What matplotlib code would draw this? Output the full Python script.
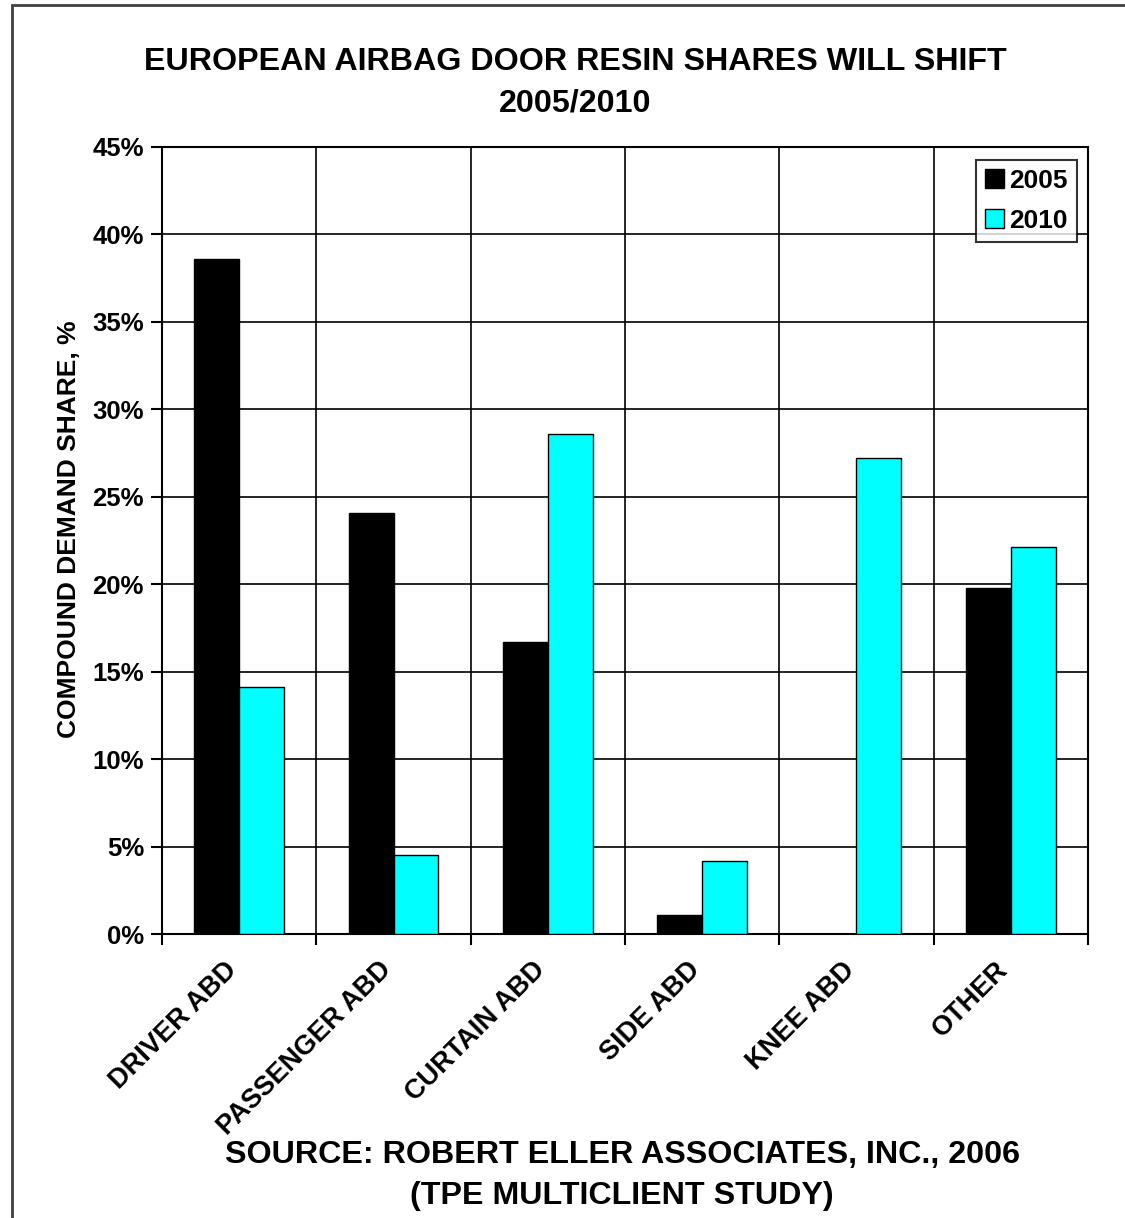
import numpy as np
import matplotlib.pyplot as plt
from matplotlib.patches import Rectangle

plt.rcParams['font.family'] = ['Liberation Sans', 'DejaVu Sans']
plt.rcParams['font.weight'] = 'bold'

categories = ['DRIVER ABD', 'PASSENGER ABD', 'CURTAIN ABD', 'SIDE ABD', 'KNEE ABD', 'OTHER']
share_2005 = [38.6, 24.1, 16.7, 1.1, 0.0, 19.8]
share_2010 = [14.1, 4.5, 28.6, 4.2, 27.2, 22.1]
yticks = [0, 5, 10, 15, 20, 25, 30, 35, 40, 45]

fig = plt.figure(figsize=(11.25, 12.18), dpi=100)
ax = fig.add_axes([162 / 1125, 1 - 934 / 1218, (1088 - 162) / 1125, (934 - 147) / 1218])

# рамка вокруг всего рисунка
fig.patches.append(Rectangle((12 / 1125, -0.01), 1.02, 1 - 5 / 1218 + 0.01,
                             transform=fig.transFigure, fill=False,
                             edgecolor='#404040', linewidth=2))

x = np.arange(len(categories))
w = 0.29
ax.bar(x - w / 2, share_2005, w, color='black', edgecolor='black', linewidth=1, label='2005', zorder=3)
ax.bar(x + w / 2, share_2010, w, color='#00ffff', edgecolor='black', linewidth=1, label='2010', zorder=3)

ax.set_xlim(-0.5, len(categories) - 0.5)
ax.set_ylim(0, 45)
ax.set_yticks(yticks)
ax.set_yticklabels([f'{t}%' for t in yticks], fontsize=18.5, fontweight='bold')
ax.yaxis.grid(True, color='black', linewidth=1.2, zorder=0)

# границы категорий: вертикальные линии и засечки
bounds = np.arange(len(categories) + 1) - 0.5
for b in bounds[1:-1]:
    ax.axvline(b, color='black', linewidth=1.2, zorder=0)
ax.set_xticks(bounds, minor=False)
ax.set_xticklabels([''] * len(bounds))
ax.tick_params(axis='x', direction='out', length=8, width=1.5)
ax.tick_params(axis='y', direction='out', length=8, width=1.5, pad=5)
for i, c in enumerate(categories):
    ax.text(i - 0.1, -1.3, c, rotation=45, ha='right', va='top', rotation_mode='anchor',
            fontsize=19.5, fontweight='bold')

for s in ax.spines.values():
    s.set_linewidth(1.5)

ax.set_ylabel('COMPOUND DEMAND SHARE, %', fontsize=19, fontweight='bold')
ax.yaxis.set_label_coords(-0.088, 0.515)

leg = ax.legend(loc='upper right', bbox_to_anchor=(0.988, 0.984), fontsize=19, frameon=True,
                fancybox=False, edgecolor='black', handlelength=0.7, handleheight=0.75,
                handletextpad=0.2, borderpad=0.35, labelspacing=0.6, borderaxespad=0)
leg.get_frame().set_linewidth(1.5)
leg.set_zorder(5)

fig.text(0.511, 1 - 62 / 1218, 'EUROPEAN AIRBAG DOOR RESIN SHARES WILL SHIFT', ha='center', va='center',
         fontsize=23.2, fontweight='bold')
fig.text(0.511, 1 - 104 / 1218, '2005/2010', ha='center', va='center', fontsize=23.2, fontweight='bold')
fig.text(0.553, 1 - 1155 / 1218, 'SOURCE: ROBERT ELLER ASSOCIATES, INC., 2006', ha='center', va='center',
         fontsize=23.2, fontweight='bold')
fig.text(0.553, 1 - 1196 / 1218, '(TPE MULTICLIENT STUDY)', ha='center', va='center',
         fontsize=23.2, fontweight='bold')

fig.savefig('out.png', dpi=100)
